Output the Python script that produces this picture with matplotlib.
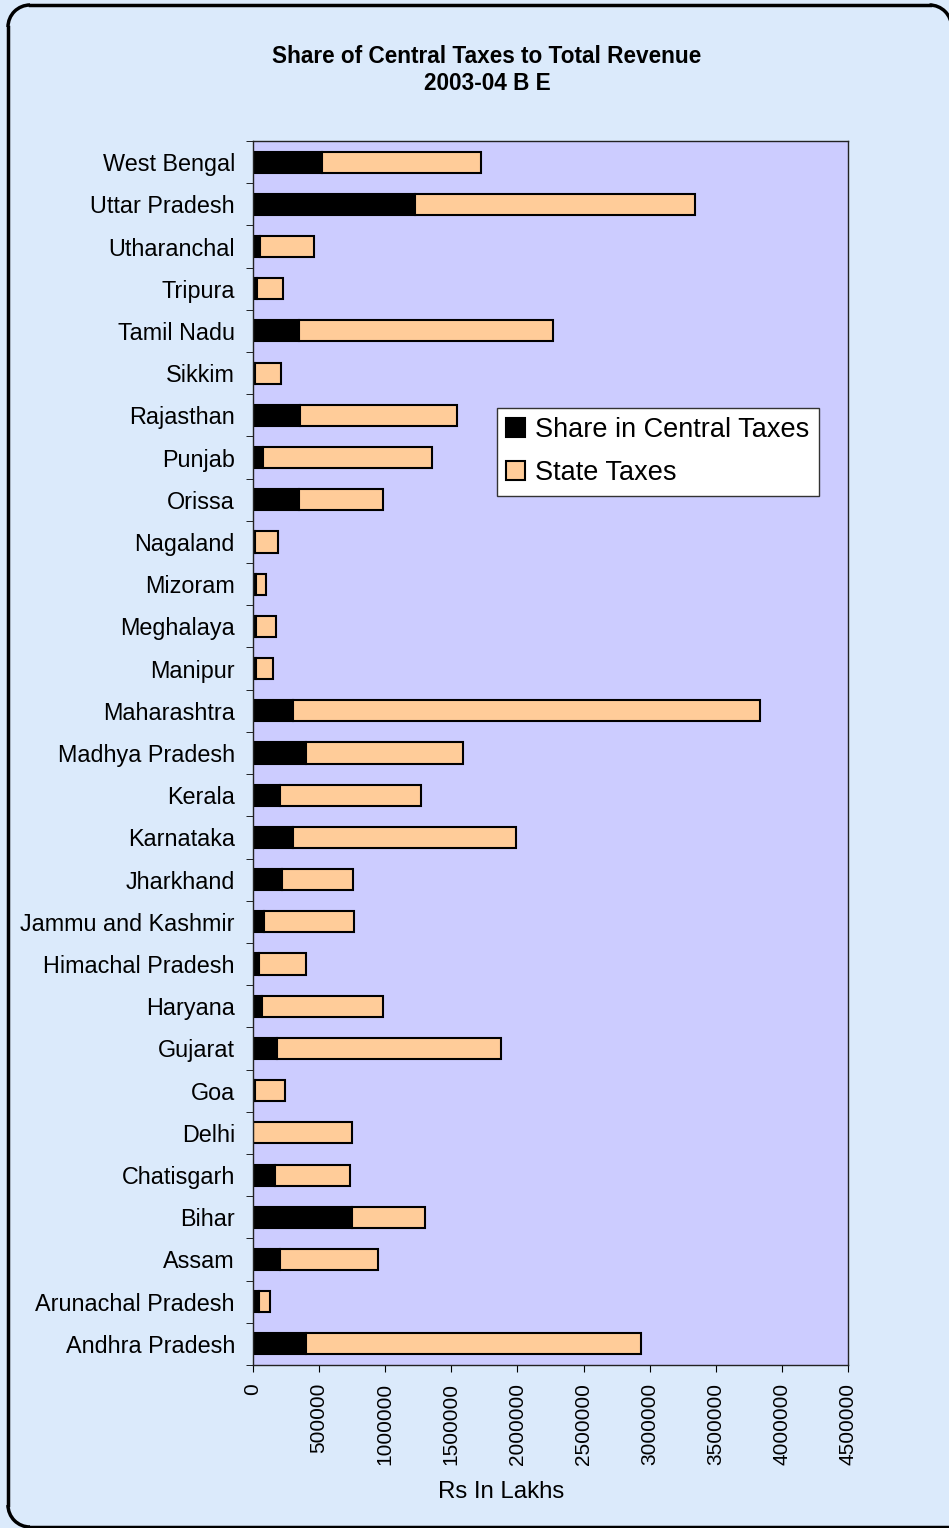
import matplotlib.pyplot as plt
from matplotlib.patches import Arc
from matplotlib.lines import Line2D
from matplotlib.transforms import IdentityTransform
import numpy as np

plt.rcParams['font.family'] = ['Liberation Sans', 'DejaVu Sans']

# states listed bottom to top
states = ["Andhra Pradesh", "Arunachal Pradesh", "Assam", "Bihar", "Chatisgarh",
          "Delhi", "Goa", "Gujarat", "Haryana", "Himachal Pradesh",
          "Jammu and Kashmir", "Jharkhand", "Karnataka", "Kerala", "Madhya Pradesh",
          "Maharashtra", "Manipur", "Meghalaya", "Mizoram", "Nagaland",
          "Orissa", "Punjab", "Rajasthan", "Sikkim", "Tamil Nadu",
          "Tripura", "Utharanchal", "Uttar Pradesh", "West Bengal"]

# Rs in lakhs
central = [398000, 43000, 204000, 746000, 169000,
           0, 12000, 179000, 66000, 48000,
           83000, 219000, 306000, 203000, 401000,
           301000, 25000, 25000, 20000, 15000,
           348000, 76000, 355000, 15000, 348000,
           30000, 53000, 1225000, 522000]
state_tax = [2534000, 88000, 744000, 555000, 562000,
             749000, 230000, 1694000, 915000, 353000,
             680000, 536000, 1680000, 1067000, 1187000,
             3532000, 125000, 146000, 77000, 174000,
             635000, 1278000, 1188000, 197000, 1921000,
             197000, 408000, 2118000, 1202000]

fig = plt.figure(figsize=(9.49, 15.28), dpi=100)
fig.patch.set_facecolor('#dbeafb')

# rounded frame drawn piece by piece, in pixels (right edge is off the picture)
px = IdentityTransform()
r = 22
left, right, bottom, top = 8, 951.5, 1, 1523
fig.add_artist(Line2D([left, left], [bottom + r, top - r], color='black', lw=2.5, transform=px))
fig.add_artist(Line2D([left + r, right - r], [top, top], color='black', lw=2.5, transform=px))
fig.add_artist(Line2D([left + r, 949], [bottom, bottom], color='black', lw=2.5, transform=px))
for cx, cy, t1, t2 in [(left + r, top - r, 90, 180), (left + r, bottom + r, 180, 270),
                       (right - r, top - r, 0, 90)]:
    fig.add_artist(Arc((cx, cy), 2 * r, 2 * r, theta1=t1, theta2=t2,
                       color='black', lw=2.5, transform=px))

ax = fig.add_axes([253 / 949, 1 - 1365 / 1528, 595 / 949, 1224 / 1528])
ax.set_facecolor('#ccccff')

y = np.arange(len(states))
ax.barh(y, central, height=0.5, color='black', edgecolor='black',
        linewidth=1.5, label='Share in Central Taxes')
ax.barh(y, state_tax, left=central, height=0.5, color='#ffcc99',
        edgecolor='black', linewidth=1.5, label='State Taxes')

ax.set_xlim(0, 4500000)
ax.set_ylim(-0.5, len(states) - 0.5)
ax.set_xticks(np.arange(0, 4500001, 500000))
ax.set_xticklabels([str(v) for v in range(0, 4500001, 500000)],
                   rotation=90, fontsize=15)
ax.tick_params(axis='x', direction='out', length=5, pad=8)

ax.set_yticks(y)
ax.set_yticklabels(states, fontsize=16.8)
ax.tick_params(axis='y', which='major', length=0, pad=13)
ax.set_yticks(np.arange(-0.5, len(states), 1), minor=True)
ax.tick_params(axis='y', which='minor', direction='out', length=5)

for sp in ax.spines.values():
    sp.set_linewidth(1)
    sp.set_color('#222222')

ax.set_xlabel('Rs In Lakhs', fontsize=17.3)
ax.xaxis.set_label_coords((501 - 253) / 595, -(1481 - 1365) / 1224)

leg = ax.legend(loc='upper left', bbox_to_anchor=(0.41, 0.782),
                borderaxespad=0, fontsize=19.5, frameon=True, fancybox=False,
                framealpha=1, handlelength=0.7, handleheight=0.7,
                handletextpad=0.35, borderpad=0.35, labelspacing=0.62)
leg.get_frame().set_edgecolor('#333333')
leg.get_frame().set_linewidth(1)

fig.text(487 / 949, 1 - 70 / 1528,
         'Share of Central Taxes to Total Revenue\n2003-04 B E',
         ha='center', va='center', fontsize=16.3, fontweight='bold',
         linespacing=1.25)

fig.savefig('out.png', dpi=100, facecolor=fig.get_facecolor())
